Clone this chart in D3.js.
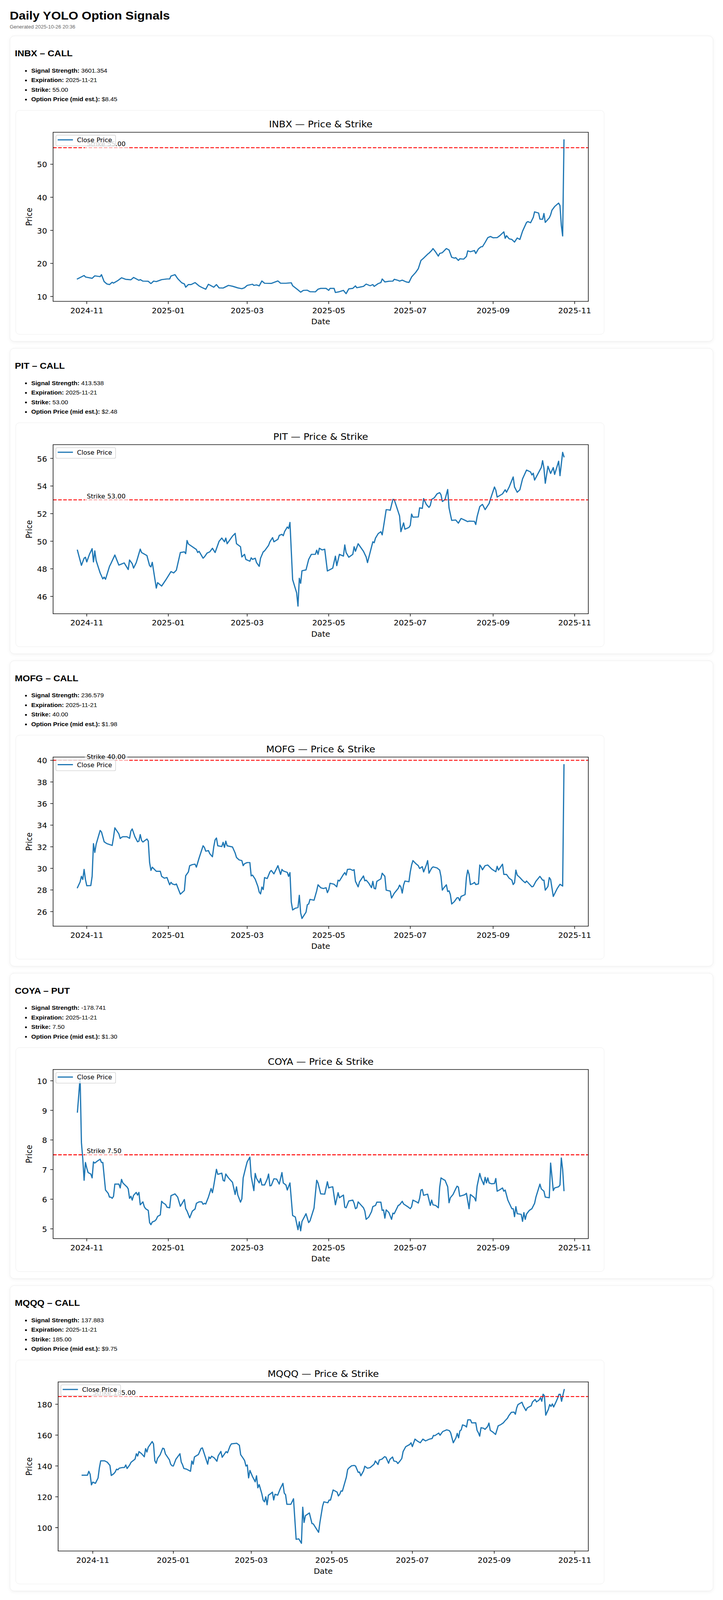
<!DOCTYPE html>
<html>
<head>
<meta charset="utf-8">
<script src="https://cdn.jsdelivr.net/npm/d3@7"></script>
<style>
html,body{margin:0;padding:0;background:#fff;overflow:hidden;}
#page{padding:24px 25px;font-family:"Liberation Sans",Arial,Helvetica,sans-serif;color:#000;transform-origin:0 0;}
h1{font-size:32px;line-height:37px;margin:0;font-weight:bold;}
.sub{font-size:13px;line-height:15px;color:#666;margin-top:4px;}
.card{box-sizing:border-box;height:830px;border:1px solid #ececec;border-radius:12px;padding:12px;margin-top:18px;box-shadow:0 2px 10px rgba(0,0,0,0.05);background:#fff;}
#cards .card:first-child{margin-top:17px;}
.card h2{font-size:24px;line-height:28px;margin:21px 0 20px 0;font-weight:bold;}
.card ul{margin:0;padding-left:42px;font-size:16px;line-height:26px;}
.chartbox{margin:16px 0 0 2px;width:1506px;height:607px;border:1px solid #ececec;border-radius:10px;}
.chartbox svg{display:block;}
</style>
</head>
<body>
<div id="page">
<h1>Daily YOLO Option Signals</h1>
<div class="sub">Generated 2025-10-26 20:36</div>
<div id="cards"></div>
</div>
<script>
// ---------- meta data ----------
const tickers = ["INBX","PIT","MOFG","COYA","MQQQ"];
const directions = ["CALL","CALL","CALL","PUT","CALL"];
const signalStrengths = ["3601.354","413.538","236.579","-178.741","137.883"];
const expirations = ["2025-11-21","2025-11-21","2025-11-21","2025-11-21","2025-11-21"];
const strikes = [55.00, 53.00, 40.00, 7.50, 185.00];
const optionPrices = [8.45, 2.48, 1.98, 1.30, 9.75];
const xTickLabels = ["2024-11","2025-01","2025-03","2025-05","2025-07","2025-09","2025-11"];
const yTicks = [
  [10,20,30,40,50],
  [46,48,50,52,54,56],
  [26,28,30,32,34,36,38,40],
  [5,6,7,8,9,10],
  [100,120,140,160,180]
];
const strikeLabelDate = "2024-11-01";

// ---------- INBX ----------
const inbxDates = ["2024-10-25","2024-10-30","2024-10-31","2024-11-05","2024-11-07","2024-11-11","2024-11-12","2024-11-14","2024-11-16","2024-11-18",
"2024-11-20","2024-11-21","2024-11-24","2024-11-27","2024-11-30","2024-12-04","2024-12-06","2024-12-10","2024-12-11","2024-12-13",
"2024-12-17","2024-12-19","2024-12-21","2024-12-23","2024-12-27","2024-12-31","2025-01-02","2025-01-03","2025-01-06","2025-01-08",
"2025-01-11","2025-01-13","2025-01-14","2025-01-16","2025-01-18","2025-01-21","2025-01-24","2025-01-26","2025-01-29","2025-01-31",
"2025-02-04","2025-02-06","2025-02-08","2025-02-11","2025-02-15","2025-02-18","2025-02-22","2025-02-25","2025-02-27","2025-03-01",
"2025-03-05","2025-03-06","2025-03-08","2025-03-10","2025-03-12","2025-03-14","2025-03-19","2025-03-24","2025-03-26","2025-03-30",
"2025-04-03","2025-04-04","2025-04-08","2025-04-10","2025-04-12","2025-04-15","2025-04-17","2025-04-21","2025-04-23","2025-04-25",
"2025-04-29","2025-05-01","2025-05-02","2025-05-05","2025-05-06","2025-05-09","2025-05-12","2025-05-14","2025-05-16","2025-05-19",
"2025-05-21","2025-05-22","2025-05-25","2025-05-27","2025-05-29","2025-06-01","2025-06-03","2025-06-04","2025-06-07","2025-06-09",
"2025-06-10","2025-06-12","2025-06-15","2025-06-18","2025-06-19","2025-06-22","2025-06-23","2025-06-25","2025-06-28","2025-06-30",
"2025-07-02","2025-07-05","2025-07-07","2025-07-09","2025-07-11","2025-07-14","2025-07-15","2025-07-17","2025-07-18","2025-07-20",
"2025-07-22","2025-07-23","2025-07-25","2025-07-28","2025-07-30","2025-08-01","2025-08-03","2025-08-04","2025-08-06","2025-08-07",
"2025-08-10","2025-08-12","2025-08-13","2025-08-15","2025-08-18","2025-08-19","2025-08-21","2025-08-23","2025-08-24","2025-08-26",
"2025-08-28","2025-08-30","2025-09-01","2025-09-04","2025-09-06","2025-09-09","2025-09-10","2025-09-11","2025-09-13","2025-09-15",
"2025-09-17","2025-09-19","2025-09-21","2025-09-23","2025-09-26","2025-09-27","2025-09-29","2025-10-01","2025-10-02","2025-10-05",
"2025-10-06","2025-10-08","2025-10-09","2025-10-10","2025-10-13","2025-10-14","2025-10-15","2025-10-17","2025-10-20","2025-10-21",
"2025-10-22","2025-10-23","2025-10-24"];
const inbxClose = [15.3,16.35,15.9,15.5,16.25,16.0,16.6,14.5,13.8,13.6,
14.3,14.05,14.75,15.65,15.2,15.05,15.75,14.9,15.1,14.65,
14.6,13.9,14.65,14.5,15.1,15.3,15.3,16.2,16.6,15.4,
14.15,13.8,12.8,13.6,13.6,14.2,13.2,12.75,12.2,13.7,
12.8,13.6,12.6,12.55,13.35,13.1,12.6,12.35,12.65,13.35,
13.7,13.35,13.5,13.2,14.7,14.0,13.95,14.7,14.0,14.0,
14.15,13.25,12.0,11.3,11.85,11.9,11.45,11.4,12.2,12.45,
12.45,11.85,12.45,12.45,11.2,11.45,11.85,10.85,12.3,12.45,
13.2,12.65,12.9,13.05,13.75,13.25,13.6,13.05,13.9,14.2,
15.3,14.4,14.6,14.65,15.2,14.85,14.65,14.95,14.4,14.25,
15.9,17.25,18.4,20.9,21.6,22.8,23.1,23.9,24.5,23.45,
22.2,23.0,23.25,24.5,24.05,21.85,21.6,21.75,20.9,21.4,
21.3,22.1,23.8,23.55,23.9,23.0,24.4,25.05,25.05,26.35,
27.8,28.15,27.75,27.8,28.4,29.55,27.6,28.4,27.45,27.25,
26.45,27.7,27.25,29.75,32.4,32.65,32.3,33.9,35.6,35.25,
33.4,33.35,35.1,32.4,33.8,34.7,36.1,37.2,38.25,37.5,
31.5,28.3,57.35];

// ---------- PIT ----------
const pitDates = ["2024-10-25","2024-10-28","2024-10-30","2024-10-31","2024-11-01","2024-11-03","2024-11-05","2024-11-06","2024-11-07","2024-11-08",
"2024-11-11","2024-11-13","2024-11-14","2024-11-15","2024-11-18","2024-11-19","2024-11-22","2024-11-25","2024-11-27","2024-11-29",
"2024-12-02","2024-12-03","2024-12-05","2024-12-06","2024-12-08","2024-12-09","2024-12-11","2024-12-12","2024-12-16","2024-12-18",
"2024-12-19","2024-12-20","2024-12-23","2024-12-24","2024-12-27","2024-12-30","2025-01-03","2025-01-05","2025-01-07","2025-01-10",
"2025-01-13","2025-01-14","2025-01-15","2025-01-16","2025-01-22","2025-01-23","2025-01-24","2025-01-27","2025-01-28","2025-01-30",
"2025-02-01","2025-02-03","2025-02-05","2025-02-08","2025-02-10","2025-02-12","2025-02-13","2025-02-14","2025-02-18","2025-02-20",
"2025-02-21","2025-02-24","2025-02-25","2025-02-27","2025-02-28","2025-03-03","2025-03-04","2025-03-05","2025-03-07","2025-03-08",
"2025-03-10","2025-03-11","2025-03-13","2025-03-14","2025-03-17","2025-03-18","2025-03-20","2025-03-21","2025-03-24","2025-03-25",
"2025-03-27","2025-03-28","2025-03-29","2025-03-31","2025-04-01","2025-04-02","2025-04-04","2025-04-07","2025-04-08","2025-04-09",
"2025-04-10","2025-04-11","2025-04-14","2025-04-16","2025-04-18","2025-04-21","2025-04-22","2025-04-23","2025-04-24","2025-04-26",
"2025-04-28","2025-04-30","2025-05-04","2025-05-06","2025-05-07","2025-05-09","2025-05-12","2025-05-13","2025-05-14","2025-05-16",
"2025-05-19","2025-05-20","2025-05-21","2025-05-23","2025-05-27","2025-05-29","2025-05-30","2025-06-03","2025-06-04","2025-06-05",
"2025-06-07","2025-06-09","2025-06-10","2025-06-11","2025-06-13","2025-06-15","2025-06-16","2025-06-18","2025-06-19","2025-06-23",
"2025-06-24","2025-06-26","2025-06-27","2025-06-30","2025-07-01","2025-07-02","2025-07-03","2025-07-07","2025-07-08","2025-07-10",
"2025-07-11","2025-07-13","2025-07-15","2025-07-16","2025-07-17","2025-07-19","2025-07-21","2025-07-23","2025-07-24","2025-07-25",
"2025-07-27","2025-07-29","2025-07-30","2025-08-01","2025-08-04","2025-08-06","2025-08-08","2025-08-10","2025-08-13","2025-08-14",
"2025-08-18","2025-08-19","2025-08-20","2025-08-22","2025-08-24","2025-08-26","2025-08-29","2025-08-30","2025-09-02","2025-09-03",
"2025-09-04","2025-09-08","2025-09-10","2025-09-11","2025-09-13","2025-09-16","2025-09-17","2025-09-19","2025-09-21","2025-09-23",
"2025-09-26","2025-09-29","2025-09-30","2025-10-01","2025-10-02","2025-10-06","2025-10-07","2025-10-08","2025-10-09","2025-10-10",
"2025-10-12","2025-10-14","2025-10-16","2025-10-17","2025-10-20","2025-10-21","2025-10-23","2025-10-24"];
const pitClose = [49.35,48.25,48.77,48.84,48.5,49.05,49.46,48.5,49.3,48.6,
47.7,47.27,47.4,47.24,48.18,48.37,49.0,48.27,48.35,48.43,
47.95,48.64,48.37,48.05,48.45,48.77,49.43,49.18,48.96,48.23,
48.14,48.47,46.6,47.0,46.75,47.18,47.8,47.7,47.9,49.18,
49.23,49.1,50.05,49.8,49.4,49.18,49.27,48.77,48.86,49.14,
49.23,49.49,49.18,50.0,50.23,49.96,50.23,49.82,50.37,50.57,
49.82,49.6,48.86,49.05,48.68,48.55,48.8,48.68,48.77,48.45,
48.18,48.77,49.23,49.3,49.7,49.96,50.26,49.96,50.14,50.42,
50.5,50.4,50.7,51.03,50.92,51.36,47.22,46.26,45.3,47.31,
46.95,47.86,47.92,48.68,49.05,49.05,49.35,49.05,49.49,49.37,
49.42,47.84,48.05,48.92,48.23,49.05,48.92,49.73,49.18,48.84,
49.05,49.6,49.27,49.82,49.27,48.86,48.45,49.96,49.89,50.23,
50.55,50.69,50.46,51.05,52.29,52.27,52.24,53.03,53.02,51.83,
50.69,51.33,50.87,51.0,51.15,51.97,51.74,51.76,52.42,52.38,
53.09,52.67,52.45,52.6,53.03,53.15,53.43,53.52,53.36,52.88,
53.02,53.75,52.42,51.51,51.54,51.31,51.65,51.56,51.42,51.46,
51.44,51.21,51.78,52.51,52.67,52.29,52.74,53.06,53.93,53.7,
53.2,53.43,53.73,53.55,53.93,54.66,53.93,53.55,53.73,54.52,
55.16,55.02,54.8,54.93,54.43,55.16,55.34,55.84,55.3,54.2,
55.43,54.91,55.34,54.84,55.8,54.75,56.44,56.12];

// ---------- MOFG ----------
const mofgDates = ["2024-10-25","2024-10-27","2024-10-28","2024-10-29","2024-10-30","2024-10-31","2024-11-01","2024-11-04","2024-11-05","2024-11-06",
"2024-11-07","2024-11-08","2024-11-11","2024-11-12","2024-11-14","2024-11-16","2024-11-19","2024-11-20","2024-11-21","2024-11-22",
"2024-11-25","2024-11-26","2024-11-27","2024-11-28","2024-12-01","2024-12-03","2024-12-04","2024-12-05","2024-12-07","2024-12-09",
"2024-12-10","2024-12-11","2024-12-12","2024-12-13","2024-12-16","2024-12-17","2024-12-18","2024-12-19","2024-12-20","2024-12-23",
"2024-12-26","2024-12-27","2024-12-29","2024-12-31","2025-01-02","2025-01-03","2025-01-04","2025-01-06","2025-01-07","2025-01-10",
"2025-01-13","2025-01-14","2025-01-16","2025-01-17","2025-01-19","2025-01-21","2025-01-22","2025-01-24","2025-01-27","2025-01-28",
"2025-01-29","2025-01-31","2025-02-01","2025-02-03","2025-02-04","2025-02-05","2025-02-06","2025-02-07","2025-02-10","2025-02-11",
"2025-02-12","2025-02-13","2025-02-14","2025-02-18","2025-02-20","2025-02-21","2025-02-23","2025-02-25","2025-02-26","2025-02-27",
"2025-03-01","2025-03-03","2025-03-04","2025-03-05","2025-03-07","2025-03-09","2025-03-10","2025-03-11","2025-03-12","2025-03-13",
"2025-03-14","2025-03-16","2025-03-18","2025-03-19","2025-03-21","2025-03-24","2025-03-26","2025-03-27","2025-03-28","2025-03-31",
"2025-04-01","2025-04-02","2025-04-03","2025-04-04","2025-04-06","2025-04-08","2025-04-09","2025-04-10","2025-04-11","2025-04-14",
"2025-04-15","2025-04-16","2025-04-17","2025-04-20","2025-04-22","2025-04-23","2025-04-25","2025-04-27","2025-04-29","2025-04-30",
"2025-05-01","2025-05-02","2025-05-05","2025-05-07","2025-05-08","2025-05-09","2025-05-12","2025-05-13","2025-05-14","2025-05-15",
"2025-05-17","2025-05-19","2025-05-20","2025-05-21","2025-05-23","2025-05-24","2025-05-27","2025-05-28","2025-05-29","2025-05-31",
"2025-06-02","2025-06-03","2025-06-04","2025-06-05","2025-06-06","2025-06-09","2025-06-10","2025-06-12","2025-06-13","2025-06-16",
"2025-06-17","2025-06-19","2025-06-22","2025-06-23","2025-06-24","2025-06-25","2025-06-26","2025-06-27","2025-06-30","2025-07-01",
"2025-07-02","2025-07-03","2025-07-05","2025-07-07","2025-07-08","2025-07-10","2025-07-11","2025-07-13","2025-07-14","2025-07-15",
"2025-07-17","2025-07-18","2025-07-21","2025-07-23","2025-07-24","2025-07-25","2025-07-26","2025-07-28","2025-07-29","2025-07-30",
"2025-07-31","2025-08-01","2025-08-03","2025-08-05","2025-08-06","2025-08-07","2025-08-08","2025-08-11","2025-08-12","2025-08-13",
"2025-08-14","2025-08-15","2025-08-17","2025-08-18","2025-08-19","2025-08-21","2025-08-22","2025-08-23","2025-08-24","2025-08-26",
"2025-08-28","2025-08-31","2025-09-03","2025-09-04","2025-09-05","2025-09-08","2025-09-09","2025-09-11","2025-09-13","2025-09-15",
"2025-09-16","2025-09-17","2025-09-18","2025-09-19","2025-09-21","2025-09-23","2025-09-25","2025-09-26","2025-09-28","2025-09-30",
"2025-10-01","2025-10-03","2025-10-06","2025-10-08","2025-10-09","2025-10-10","2025-10-12","2025-10-13","2025-10-14","2025-10-16",
"2025-10-19","2025-10-21","2025-10-23","2025-10-24"];
const mofgClose = [28.21,28.74,29.26,28.97,29.9,28.97,28.39,28.41,29.26,32.29,
31.47,32.23,33.51,33.37,32.46,32.29,32.17,32.12,32.87,33.75,
33.19,32.76,32.87,32.93,32.93,32.78,33.45,33.65,32.93,32.46,
32.52,33.13,32.58,32.44,32.72,32.52,30.54,29.81,30.11,29.73,
29.73,29.26,29.09,29.15,28.48,28.71,28.56,28.48,28.56,27.61,
27.95,29.32,29.67,30.25,30.35,30.39,30.11,30.95,32.09,31.94,
31.59,31.65,31.36,31.07,32.0,32.64,32.81,32.09,32.02,32.41,
31.94,32.52,32.09,31.98,31.42,31.01,30.78,30.72,30.25,30.43,
30.54,30.54,29.3,29.38,29.0,28.33,27.81,27.63,28.27,28.04,
29.15,29.06,29.67,29.81,29.49,30.25,29.44,29.9,29.76,29.63,
29.26,29.61,26.87,26.15,26.31,26.38,27.51,25.88,25.36,25.94,
26.64,26.7,27.13,27.05,27.92,28.48,28.21,28.13,28.21,27.75,
28.02,28.62,28.53,28.29,28.91,28.83,29.44,29.61,29.38,29.9,
29.93,29.81,29.88,28.8,28.29,28.74,29.3,28.85,28.91,28.62,
28.21,28.8,28.15,28.1,28.8,29.03,29.55,29.26,27.98,27.9,
27.25,27.69,28.15,28.45,28.27,27.71,28.45,28.83,28.76,29.67,
30.31,30.72,30.46,30.25,29.99,30.16,29.67,30.31,30.72,29.55,
30.02,30.14,30.04,29.84,29.23,27.98,28.18,28.48,27.86,27.92,
27.57,26.7,26.93,27.28,27.28,27.01,27.4,27.57,29.15,29.84,
29.44,28.5,28.6,28.71,28.5,28.56,30.31,30.14,29.87,30.25,
30.31,29.93,29.69,30.19,29.84,30.39,29.44,29.44,29.09,28.91,
28.5,28.67,29.84,29.38,29.15,28.88,28.67,28.83,28.56,28.29,
28.33,28.8,29.26,28.91,28.91,27.98,28.33,29.15,28.97,27.4,
28.15,28.53,28.36,39.59];

// ---------- COYA ----------
const coyaDates = ["2024-10-25","2024-10-26","2024-10-27","2024-10-28","2024-10-29","2024-10-30","2024-10-31","2024-11-01","2024-11-02","2024-11-04",
"2024-11-05","2024-11-06","2024-11-07","2024-11-09","2024-11-11","2024-11-12","2024-11-13","2024-11-15","2024-11-17","2024-11-18",
"2024-11-19","2024-11-20","2024-11-21","2024-11-22","2024-11-25","2024-11-26","2024-11-27","2024-11-28","2024-11-30","2024-12-01",
"2024-12-02","2024-12-03","2024-12-04","2024-12-05","2024-12-06","2024-12-08","2024-12-09","2024-12-10","2024-12-11","2024-12-13",
"2024-12-14","2024-12-15","2024-12-17","2024-12-18","2024-12-19","2024-12-20","2024-12-22","2024-12-23","2024-12-24","2024-12-26",
"2024-12-27","2024-12-28","2024-12-30","2024-12-31","2025-01-02","2025-01-03","2025-01-04","2025-01-06","2025-01-08","2025-01-10",
"2025-01-13","2025-01-14","2025-01-15","2025-01-17","2025-01-19","2025-01-21","2025-01-22","2025-01-24","2025-01-26","2025-01-27",
"2025-01-28","2025-01-29","2025-01-31","2025-02-02","2025-02-03","2025-02-04","2025-02-06","2025-02-07","2025-02-10","2025-02-11",
"2025-02-12","2025-02-13","2025-02-15","2025-02-18","2025-02-20","2025-02-21","2025-02-22","2025-02-24","2025-02-25","2025-02-26",
"2025-02-28","2025-03-01","2025-03-03","2025-03-04","2025-03-06","2025-03-07","2025-03-08","2025-03-10","2025-03-11","2025-03-12",
"2025-03-14","2025-03-16","2025-03-17","2025-03-18","2025-03-19","2025-03-21","2025-03-23","2025-03-25","2025-03-27","2025-03-28",
"2025-03-30","2025-03-31","2025-04-02","2025-04-04","2025-04-06","2025-04-08","2025-04-09","2025-04-10","2025-04-11","2025-04-14",
"2025-04-16","2025-04-17","2025-04-20","2025-04-22","2025-04-23","2025-04-25","2025-04-28","2025-04-29","2025-04-30","2025-05-01",
"2025-05-02","2025-05-04","2025-05-06","2025-05-08","2025-05-09","2025-05-12","2025-05-13","2025-05-14","2025-05-16","2025-05-17",
"2025-05-19","2025-05-20","2025-05-21","2025-05-22","2025-05-23","2025-05-25","2025-05-27","2025-05-28","2025-05-29","2025-05-31",
"2025-06-02","2025-06-03","2025-06-05","2025-06-06","2025-06-09","2025-06-10","2025-06-11","2025-06-12","2025-06-13","2025-06-15",
"2025-06-17","2025-06-18","2025-06-19","2025-06-22","2025-06-23","2025-06-25","2025-06-26","2025-06-29","2025-07-01","2025-07-02",
"2025-07-03","2025-07-06","2025-07-07","2025-07-08","2025-07-09","2025-07-10","2025-07-11","2025-07-13","2025-07-14","2025-07-16",
"2025-07-17","2025-07-18","2025-07-20","2025-07-22","2025-07-23","2025-07-24","2025-07-26","2025-07-27","2025-07-29","2025-07-30",
"2025-07-31","2025-08-02","2025-08-04","2025-08-05","2025-08-06","2025-08-07","2025-08-10","2025-08-11","2025-08-12","2025-08-14",
"2025-08-15","2025-08-18","2025-08-19","2025-08-20","2025-08-22","2025-08-23","2025-08-25","2025-08-26","2025-08-27","2025-08-28",
"2025-08-29","2025-08-31","2025-09-02","2025-09-03","2025-09-04","2025-09-06","2025-09-08","2025-09-09","2025-09-10","2025-09-12",
"2025-09-15","2025-09-16","2025-09-17","2025-09-18","2025-09-19","2025-09-22","2025-09-23","2025-09-24","2025-09-25","2025-09-26",
"2025-09-28","2025-09-30","2025-10-02","2025-10-03","2025-10-06","2025-10-07","2025-10-09","2025-10-10","2025-10-13","2025-10-14",
"2025-10-16","2025-10-17","2025-10-20","2025-10-21","2025-10-22","2025-10-23","2025-10-24"];
const coyaClose = [8.94,9.52,10.12,7.91,7.37,6.64,7.24,7.05,6.9,6.85,
6.72,7.26,7.22,7.29,7.35,7.24,7.24,6.31,6.2,6.07,
6.07,6.03,6.1,6.51,6.51,6.38,6.67,6.55,6.46,6.42,
6.35,6.03,6.1,5.97,6.13,6.23,6.14,6.23,5.81,5.91,
5.75,5.68,5.62,5.21,5.14,5.23,5.27,5.32,5.42,5.47,
5.93,5.88,5.82,5.73,5.71,6.12,6.14,6.18,6.07,5.76,
5.99,5.68,5.6,5.37,5.6,5.67,5.86,5.91,5.91,5.83,
5.86,5.84,6.07,6.36,6.22,6.46,7.01,6.84,6.88,6.64,
6.61,6.85,6.72,6.57,6.16,6.42,6.14,5.9,6.01,6.72,
7.09,7.26,7.42,6.77,6.29,6.87,6.7,6.55,6.7,6.48,
6.48,6.68,6.85,6.45,6.46,6.69,6.68,6.51,6.9,6.55,
6.48,6.31,6.55,5.45,5.4,4.97,5.24,4.93,5.25,5.51,
5.21,5.27,5.7,6.64,6.55,6.18,6.17,6.38,6.59,6.38,
6.4,6.42,5.81,6.22,6.05,6.14,5.73,5.71,5.94,5.95,
5.97,5.86,5.68,5.71,5.91,5.81,5.71,5.6,5.32,5.4,
5.58,5.75,5.79,5.9,5.9,5.62,5.64,5.36,5.64,5.55,
5.32,5.53,5.51,5.79,5.81,5.93,5.84,5.75,5.68,5.75,
5.97,5.9,5.87,6.03,6.31,6.33,6.13,6.16,6.17,5.79,
5.97,5.81,5.79,5.71,6.4,6.72,6.66,6.64,6.42,5.88,
6.05,6.16,6.35,6.44,6.41,6.1,6.14,6.16,6.2,5.68,
6.16,6.05,5.94,6.44,6.87,6.7,6.49,6.74,6.55,6.72,
6.55,6.52,6.53,6.7,6.27,6.32,6.38,6.27,6.31,5.97,
5.68,5.68,5.41,5.75,5.51,5.49,5.25,5.55,5.32,5.5,
5.62,5.68,5.86,6.07,6.51,6.35,6.27,6.07,6.05,7.22,
6.29,6.38,6.42,6.48,7.39,7.0,6.29];

// ---------- MQQQ ----------
const mqqqDates = ["2024-10-24","2024-10-28","2024-10-29","2024-10-30","2024-10-31","2024-11-01","2024-11-03","2024-11-05","2024-11-06","2024-11-07",
"2024-11-10","2024-11-12","2024-11-14","2024-11-15","2024-11-17","2024-11-18","2024-11-19","2024-11-20","2024-11-21","2024-11-23",
"2024-11-25","2024-11-26","2024-11-27","2024-11-29","2024-11-30","2024-12-03","2024-12-04","2024-12-05","2024-12-06","2024-12-08",
"2024-12-10","2024-12-11","2024-12-12","2024-12-13","2024-12-16","2024-12-17","2024-12-18","2024-12-19","2024-12-20","2024-12-22",
"2024-12-24","2024-12-25","2024-12-26","2024-12-29","2024-12-30","2024-12-31","2025-01-01","2025-01-03","2025-01-06","2025-01-07",
"2025-01-08","2025-01-09","2025-01-11","2025-01-14","2025-01-15","2025-01-16","2025-01-17","2025-01-20","2025-01-22","2025-01-23",
"2025-01-25","2025-01-27","2025-01-28","2025-01-29","2025-01-30","2025-02-01","2025-02-03","2025-02-04","2025-02-06","2025-02-07",
"2025-02-10","2025-02-11","2025-02-13","2025-02-14","2025-02-18","2025-02-20","2025-02-21","2025-02-23","2025-02-24","2025-02-25",
"2025-02-26","2025-02-27","2025-02-28","2025-03-02","2025-03-04","2025-03-05","2025-03-06","2025-03-07","2025-03-09","2025-03-10",
"2025-03-11","2025-03-12","2025-03-13","2025-03-14","2025-03-16","2025-03-17","2025-03-18","2025-03-19","2025-03-21","2025-03-23",
"2025-03-25","2025-03-26","2025-03-27","2025-03-28","2025-03-31","2025-04-02","2025-04-04","2025-04-06","2025-04-08","2025-04-09",
"2025-04-10","2025-04-11","2025-04-14","2025-04-16","2025-04-17","2025-04-21","2025-04-22","2025-04-24","2025-04-25","2025-04-28",
"2025-04-29","2025-04-30","2025-05-02","2025-05-05","2025-05-06","2025-05-07","2025-05-08","2025-05-09","2025-05-12","2025-05-13",
"2025-05-14","2025-05-16","2025-05-18","2025-05-19","2025-05-21","2025-05-22","2025-05-23","2025-05-25","2025-05-26","2025-05-28",
"2025-05-30","2025-06-02","2025-06-03","2025-06-05","2025-06-06","2025-06-08","2025-06-10","2025-06-11","2025-06-13","2025-06-14",
"2025-06-16","2025-06-17","2025-06-19","2025-06-20","2025-06-22","2025-06-23","2025-06-24","2025-06-26","2025-06-29","2025-06-30",
"2025-07-01","2025-07-03","2025-07-05","2025-07-07","2025-07-09","2025-07-11","2025-07-14","2025-07-16","2025-07-17","2025-07-18",
"2025-07-21","2025-07-22","2025-07-24","2025-07-27","2025-07-29","2025-07-30","2025-08-01","2025-08-03","2025-08-04","2025-08-05",
"2025-08-06","2025-08-07","2025-08-08","2025-08-10","2025-08-11","2025-08-12","2025-08-14","2025-08-15","2025-08-18","2025-08-19",
"2025-08-20","2025-08-21","2025-08-22","2025-08-24","2025-08-25","2025-08-27","2025-08-28","2025-08-29","2025-08-31","2025-09-02",
"2025-09-04","2025-09-06","2025-09-08","2025-09-09","2025-09-11","2025-09-12","2025-09-14","2025-09-16","2025-09-17","2025-09-18",
"2025-09-19","2025-09-22","2025-09-23","2025-09-25","2025-09-26","2025-09-29","2025-09-30","2025-10-02","2025-10-03","2025-10-05",
"2025-10-06","2025-10-07","2025-10-08","2025-10-09","2025-10-10","2025-10-12","2025-10-13","2025-10-14","2025-10-15","2025-10-16",
"2025-10-18","2025-10-19","2025-10-20","2025-10-21","2025-10-22","2025-10-23","2025-10-24"];
const mqqqClose = [133.97,133.97,136.5,134.6,127.7,129.5,128.7,132.2,138.7,143.3,
143.3,142.4,140.3,133.8,135.0,136.1,137.9,137.5,138.5,138.9,
139.0,140.6,138.3,140.7,142.4,144.4,147.9,146.4,149.3,147.9,
145.9,151.2,149.0,152.1,155.8,154.2,143.3,141.7,144.8,147.2,
151.5,151.1,147.8,144.0,141.1,140.1,139.9,144.4,147.9,142.5,
140.7,138.3,137.9,136.5,143.2,141.1,145.8,147.4,151.3,151.7,
146.4,141.1,145.8,144.8,146.3,145.2,143.0,146.6,149.4,145.6,
149.3,148.5,153.0,154.3,154.7,153.4,147.3,144.8,143.4,139.9,
140.6,132.2,137.1,133.0,129.7,133.6,125.8,127.9,122.0,117.9,
116.7,120.0,114.8,121.0,122.2,123.0,117.9,121.6,121.0,125.3,
128.7,122.4,121.3,115.1,115.1,118.7,92.4,92.7,89.8,113.2,
103.3,107.7,109.5,102.6,102.4,96.9,103.3,113.8,116.7,116.1,
117.9,117.8,124.4,123.0,120.5,121.6,123.8,123.6,132.6,137.6,
138.7,140.1,140.3,139.9,135.8,136.0,133.6,136.7,139.8,138.5,
138.9,141.1,143.2,140.9,143.8,144.4,146.0,145.6,141.7,144.2,
145.8,143.2,142.8,141.5,143.6,144.8,149.3,152.5,153.9,155.0,
152.5,157.4,156.0,155.0,157.4,156.2,157.4,157.8,159.8,159.6,
161.3,159.9,162.3,163.4,162.9,161.5,155.0,158.2,161.1,158.2,
162.7,163.4,166.6,166.0,165.2,169.9,169.9,167.9,168.0,163.1,
161.5,159.3,164.8,164.4,163.7,165.6,167.8,163.1,161.9,160.4,
166.0,166.8,168.0,169.1,170.9,172.5,174.8,174.9,173.5,177.6,
179.8,181.3,179.0,175.9,177.6,179.0,181.5,183.1,181.5,182.7,
184.3,181.9,186.5,185.5,172.9,176.7,179.8,178.6,180.2,178.2,
181.9,183.9,186.4,186.4,181.9,185.9,189.5];

const seriesDates = [inbxDates, pitDates, mofgDates, coyaDates, mqqqDates];
const seriesClose = [inbxClose, pitClose, mofgClose, coyaClose, mqqqClose];

// ---------- rendering ----------
const parseDay = d3.utcParse("%Y-%m-%d");
const parseMonth = d3.utcParse("%Y-%m");
const MPL = "DejaVu Sans, Verdana, sans-serif";

function drawChart(box, i) {
  const W = 1506, H = 607;
  const svg = box.append("svg").attr("width", W).attr("height", H)
    .attr("font-family", MPL);
  const ticksY = yTicks[i];
  const maxChars = d3.max(ticksY, t => String(t).length);
  const L = 95 + (maxChars - 2) * 12.85, R = 1466, T = 59, B = 518;

  const n = Math.min(seriesDates[i].length, seriesClose[i].length);
  const data = d3.range(n).map(j => ({date: parseDay(seriesDates[i][j]), v: seriesClose[i][j]}))
    .sort((a, b) => a.date - b.date);
  const [d0, d1] = d3.extent(data, d => d.date);
  const dp = (d1 - d0) * 0.05;
  const x = d3.scaleUtc().domain([new Date(+d0 - dp), new Date(+d1 + dp)]).range([L, R]);
  let [v0, v1] = d3.extent(data, d => d.v);
  const strike = strikes[i];
  let vp = (v1 - v0) * 0.05;
  if (strike > v1 + vp) { v1 = strike; vp = (v1 - v0) * 0.05; }
  if (strike < v0 - vp) { v0 = strike; vp = (v1 - v0) * 0.05; }
  const y = d3.scaleLinear().domain([v0 - vp, v1 + vp]).range([B, T]);

  const clipId = "plotclip" + i;
  svg.append("clipPath").attr("id", clipId).append("rect")
    .attr("x", L).attr("y", T).attr("width", R - L).attr("height", B - T);

  svg.append("text").attr("x", (L + R) / 2).attr("y", 46).attr("text-anchor", "middle")
    .attr("font-size", 24.6).attr("fill", "#000").text(`${tickers[i]} — Price & Strike`);

  const line = d3.line().x(d => x(d.date)).y(d => y(d.v));
  svg.append("path").datum(data).attr("d", line)
    .attr("fill", "none").attr("stroke", "#1f77b4").attr("stroke-width", 3.1)
    .attr("stroke-linejoin", "round").attr("stroke-linecap", "square")
    .attr("clip-path", `url(#${clipId})`);

  svg.append("line").attr("x1", L).attr("x2", R).attr("y1", y(strike)).attr("y2", y(strike))
    .attr("stroke", "#ff0000").attr("stroke-width", 2.46).attr("stroke-dasharray", "9.1,3.9")
    .attr("clip-path", `url(#${clipId})`);

  svg.append("rect").attr("x", L).attr("y", T).attr("width", R - L).attr("height", B - T)
    .attr("fill", "none").attr("stroke", "#111").attr("stroke-width", 1.6);

  const xg = svg.append("g");
  xTickLabels.forEach(lbl => {
    const px = x(parseMonth(lbl));
    if (px < L - 0.5 || px > R + 0.5) return;
    xg.append("line").attr("x1", px).attr("x2", px).attr("y1", B).attr("y2", B + 7.2)
      .attr("stroke", "#111").attr("stroke-width", 1.6);
    xg.append("text").attr("x", px).attr("y", B + 32).attr("text-anchor", "middle")
      .attr("font-size", 20.3).attr("fill", "#000").text(lbl);
  });
  const yg = svg.append("g");
  ticksY.forEach(t => {
    const py = y(t);
    yg.append("line").attr("x1", L - 7.2).attr("x2", L).attr("y1", py).attr("y2", py)
      .attr("stroke", "#111").attr("stroke-width", 1.6);
    yg.append("text").attr("x", L - 15.3).attr("y", py + 8.5).attr("text-anchor", "end")
      .attr("font-size", 20.3).attr("fill", "#000").text(t);
  });

  svg.append("text").attr("x", (L + R) / 2).attr("y", 580).attr("text-anchor", "middle")
    .attr("font-size", 20.3).attr("fill", "#000").text("Date");
  svg.append("text").attr("transform", `translate(41,${(T + B) / 2}) rotate(-90)`)
    .attr("text-anchor", "middle").attr("font-size", 20.3).attr("fill", "#000").text("Price");

  const sg = svg.append("g");
  const sRect = sg.append("rect");
  const sx = x(parseDay(strikeLabelDate)), sy = y(strike) - 4;
  const sText = sg.append("text").attr("x", sx).attr("y", sy).attr("font-size", 16.4)
    .attr("fill", "#000").text(`Strike ${strike.toFixed(2)}`);
  const bb = sText.node().getBBox();
  const pad = 4.9;
  sRect.attr("x", bb.x - pad).attr("y", sy - 12.6 - pad)
    .attr("width", bb.width + 2 * pad).attr("height", (y(strike) + pad) - (sy - 12.6 - pad))
    .attr("fill", "#fff").attr("fill-opacity", 0.62);

  const lx = L + 7.3, ly = T + 8;
  const lg = svg.append("g");
  const lRect = lg.append("rect").attr("x", lx).attr("y", ly).attr("height", 29).attr("rx", 3.3)
    .attr("fill", "#fff").attr("fill-opacity", 0.8).attr("stroke", "#cccccc").attr("stroke-opacity", 0.8)
    .attr("stroke-width", 1.6);
  lg.append("line").attr("x1", lx + 6).attr("x2", lx + 42).attr("y1", ly + 12.5).attr("y2", ly + 12.5)
    .attr("stroke", "#1f77b4").attr("stroke-width", 3.1).attr("stroke-linecap", "square");
  const lt = lg.append("text").attr("x", lx + 54).attr("y", ly + 19).attr("font-size", 16.4)
    .attr("fill", "#000").text("Close Price");
  const tw = lt.node().getComputedTextLength();
  lRect.attr("width", 54 + tw + 9);
}

const cards = d3.select("#cards");
tickers.forEach((tk, i) => {
  const card = cards.append("div").attr("class", "card");
  card.append("h2").text(`${tk} – ${directions[i]}`);
  const ul = card.append("ul");
  const items = [
    ["Signal Strength:", signalStrengths[i]],
    ["Expiration:", expirations[i]],
    ["Strike:", strikes[i].toFixed(2)],
    ["Option Price (mid est.):", "$" + optionPrices[i].toFixed(2)]
  ];
  items.forEach(([k, v]) => {
    const li = ul.append("li");
    li.append("b").text(k);
    li.append("span").text(" " + v);
  });
  const box = card.append("div").attr("class", "chartbox");
  drawChart(box, i);
});

// The page is laid out for a 4343 px tall window; if the actual viewport
// is shorter, compress vertically so the whole page stays in view.
const pageEl = document.getElementById("page");
const fullH = pageEl.offsetHeight;
const sY = Math.min(1, window.innerHeight / fullH);
if (sY < 1) pageEl.style.transform = `scale(1, ${sY})`;
</script>
</body>
</html>
